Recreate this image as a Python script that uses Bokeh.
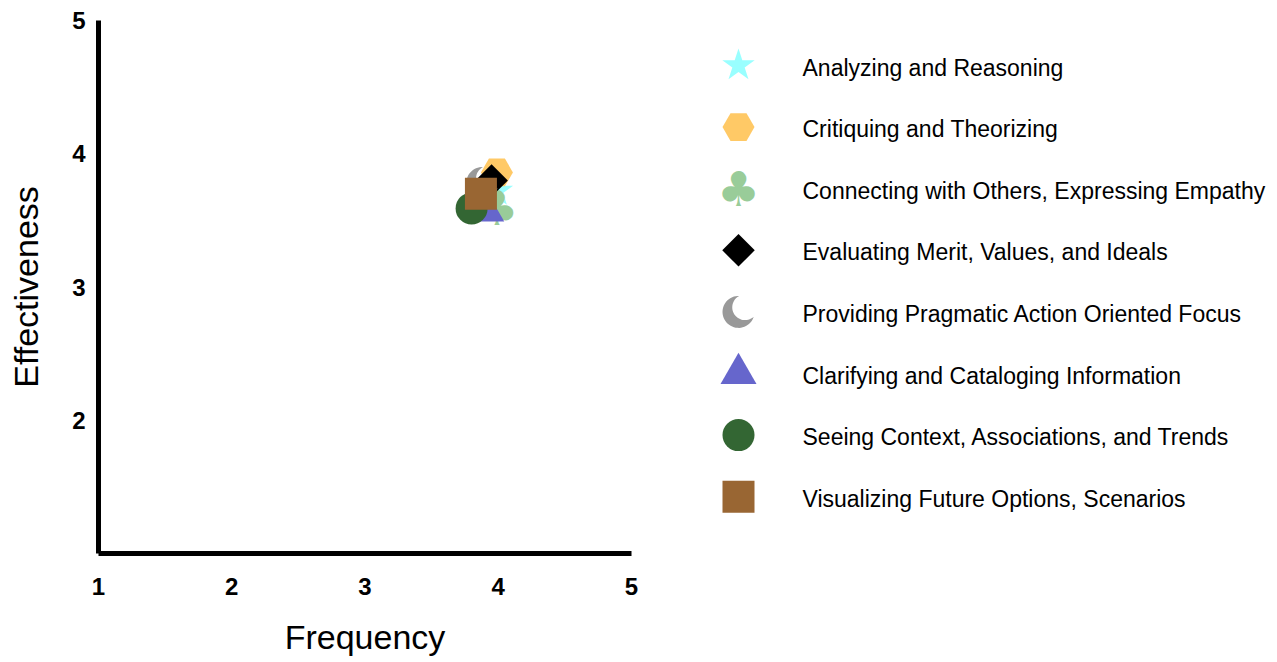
import math
from bokeh.plotting import figure
from bokeh.models import Range1d, FixedTicker
from bokeh.layouts import row
from bokeh.core.properties import value
from bokeh.embed import file_html
from bokeh.resources import INLINE

categories = [
    "Analyzing and Reasoning",
    "Critiquing and Theorizing",
    "Connecting with Others, Expressing Empathy",
    "Evaluating Merit, Values, and Ideals",
    "Providing Pragmatic Action Oriented Focus",
    "Clarifying and Cataloging Information",
    "Seeing Context, Associations, and Trends",
    "Visualizing Future Options, Scenarios",
]
frequency = [3.99, 3.99, 3.99, 3.95, 3.88, 3.91, 3.80, 3.87]
effectiveness = [3.72, 3.86, 3.59, 3.80, 3.78, 3.57, 3.59, 3.70]
colors = ["#99FFFF", "#FFC966", "#99CC99", "#000000", "#999999", "#6666CC", "#336633", "#996633"]
shapes = ["star", "hex", "club", "diamond", "moon", "triangle", "circle", "square"]
x_ticks = [1, 2, 3, 4, 5]
y_ticks = [2, 3, 4, 5]

FONT = "Liberation Sans"


def crescent(cx, cy, R, y_up=True):
    # filled crescent: outer circle minus an offset circle toward upper-right
    d, r2 = 0.5 * R, 0.8 * R
    th = math.radians(35 if y_up else -35)
    a = (d * d + R * R - r2 * r2) / (2 * d)
    h = math.sqrt(R * R - a * a)
    phi = math.atan2(h, a)
    psi = math.atan2(h, a - d)
    n = 40
    xs, ys = [], []
    for i in range(n + 1):
        t = th + phi + (2 * math.pi - 2 * phi) * i / n
        xs.append(cx + R * math.cos(t)); ys.append(cy + R * math.sin(t))
    ccx, ccy = cx + d * math.cos(th), cy + d * math.sin(th)
    for i in range(n + 1):
        t = th - psi - (2 * math.pi - 2 * psi) * i / n
        xs.append(ccx + r2 * math.cos(t)); ys.append(ccy + r2 * math.sin(t))
    return xs, ys


def draw(fig, shape, x, y, color, px_unit, y_up=True):
    if shape == "club":
        fig.text(x=[x], y=[y], text=["\u2663"], text_color=color,
                 text_font=value("DejaVu Sans"), text_font_size="48px",
                 text_align="center", text_baseline="middle")
    elif shape == "moon":
        xs, ys = crescent(x, y, 16 / px_unit, y_up)
        fig.patch(xs, ys, fill_color=color, line_color=None)
    elif shape == "diamond":
        fig.scatter(x=[x], y=[y], marker="square", angle=math.pi / 4, size=23,
                    fill_color=color, line_color=None)
    else:
        size = {"star": 34, "hex": 32, "triangle": 36, "circle": 32, "square": 32}[shape]
        fig.scatter(x=[x], y=[y], marker=shape, size=size,
                    fill_color=color, line_color=None)


p = figure(width=668, height=660, x_range=Range1d(1, 5), y_range=Range1d(1, 5),
           output_backend="svg", toolbar_location=None,
           min_border_left=98, min_border_top=20, min_border_bottom=107, min_border_right=37)
p.outline_line_color = None
p.grid.visible = False
p.xaxis.ticker = FixedTicker(ticks=x_ticks)
p.yaxis.ticker = FixedTicker(ticks=y_ticks)
for ax in (p.xaxis, p.yaxis):
    ax.axis_line_width = 5
    ax.axis_line_color = "black"
    ax.major_tick_line_color = None
    ax.minor_tick_line_color = None
    ax.major_tick_out = 0
    ax.major_tick_in = 0
    ax.major_label_text_font = FONT
    ax.major_label_text_font_size = "24px"
    ax.major_label_text_font_style = "bold"
    ax.major_label_text_color = "black"
    ax.axis_label_text_font = FONT
    ax.axis_label_text_font_size = "34px"
    ax.axis_label_text_font_style = "normal"
    ax.axis_label_text_color = "black"
p.xaxis.axis_label = "Frequency"
p.yaxis.axis_label = "Effectiveness"
p.xaxis.major_label_standoff = 24
p.xaxis.axis_label_standoff = 20
p.yaxis.major_label_standoff = 13
p.yaxis.axis_label_standoff = 24

PX_MAIN = 533 / 4.0
for shp, fx, ey, c in zip(shapes, frequency, effectiveness, colors):
    draw(p, shp, fx, ey, c, PX_MAIN)

# legend panel: its frame is aligned with the main frame (page y 20..553),
# so data units are page pixels
LW, LH = 605, 660
lg = figure(width=LW, height=LH, x_range=Range1d(0, LW), y_range=Range1d(553, 20),
            output_backend="svg", toolbar_location=None, min_border_left=0,
            min_border_right=0, min_border_top=20, min_border_bottom=107,
            x_axis_type=None, y_axis_type=None)
lg.outline_line_color = None
lg.grid.visible = False
row_y = [65 + 61.6 * i for i in range(len(categories))]
for shp, c, ry in zip(shapes, colors, row_y):
    draw(lg, shp, 70, ry, c, 1.0, y_up=False)
lg.text(x=[134] * len(categories), y=[v + 2 for v in row_y], text=categories, text_color="black",
        text_font=value(FONT), text_font_size="23px",
        text_align="left", text_baseline="middle")

layout = row(p, lg)
open("out.html", "w").write(file_html(layout, INLINE))
